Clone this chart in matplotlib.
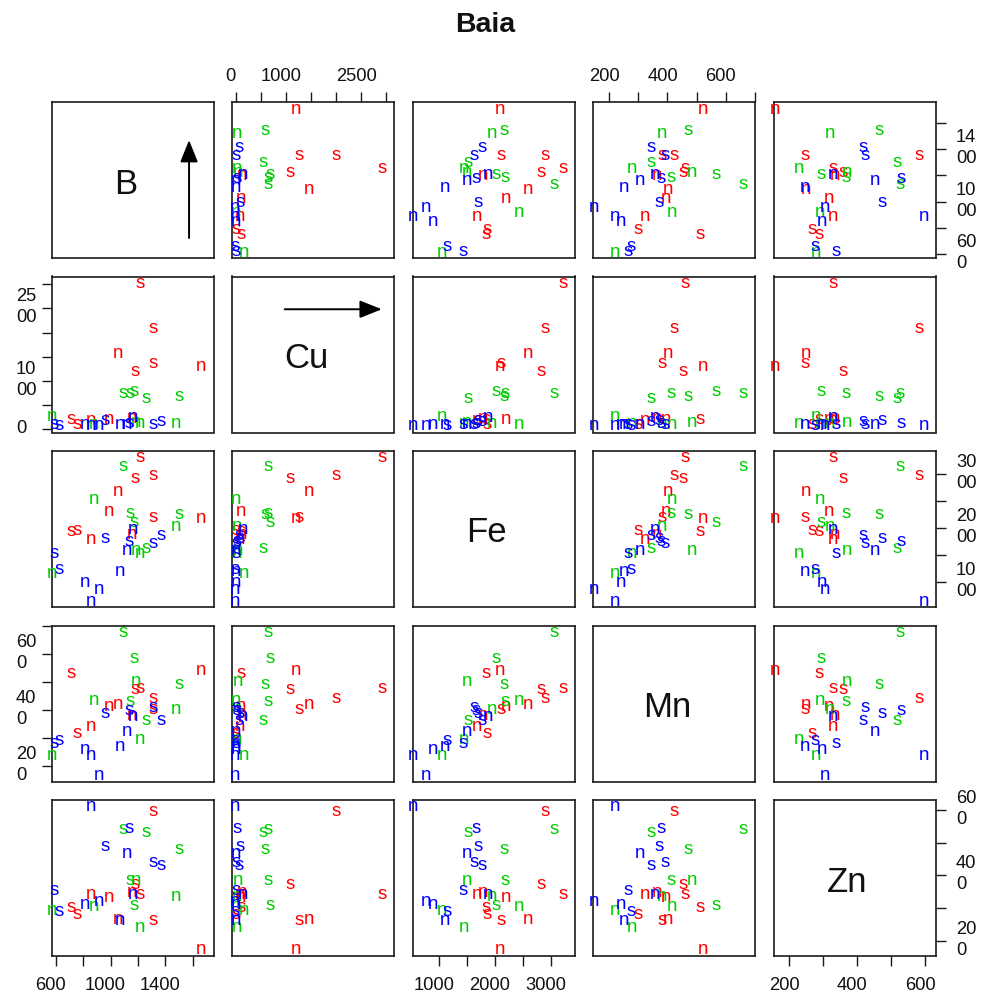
import matplotlib
matplotlib.use("Agg")
import matplotlib.pyplot as plt
import matplotlib.transforms as mtransforms

plt.rcParams['font.family'] = ['Liberation Sans', 'DejaVu Sans']

title = "Baia"
variables = ["B", "Cu", "Fe", "Mn", "Zn"]

# group colour (r / g / b) and site label (n / s) of each sample
group = (["r"] * 11) + (["g"] * 10) + (["b"] * 12)
site = ["n", "s", "s", "n", "s", "s", "n", "n", "n", "s", "s",
        "n", "s", "s", "n", "n", "s", "s", "s", "n", "n",
        "s", "s", "n", "s", "n", "n", "s", "n", "n", "n", "s", "s"]

B = [1697, 1347, 1347, 1195, 1220, 1251, 1094, 1023, 891, 790, 752,
     1517, 1537, 1296, 1251, 1225, 1208, 1182, 1132, 916, 612,
     1410, 1347, 1157, 1175, 1203, 1106, 997, 954, 891, 853, 663, 625]
Cu = [1300, 1365, 2090, 230, 1190, 3025, 1568, 210, 190, 110, 200,
      130, 688, 645, 130, 150, 780, 740, 742, 110, 262,
      170, 100, 110, 120, 250, 100, 180, 80, 90, 110, 80, 100]
Fe = [2186, 2197, 2986, 1887, 2927, 3321, 2688, 2299, 1779, 1958, 1940,
      2036, 2258, 1618, 1530, 1590, 2107, 2276, 3154, 2527, 1151,
      1869, 1720, 1587, 1749, 1976, 1193, 1797, 852, 631, 990, 1229, 1523]
Mn = [540, 400, 441, 380, 472, 477, 420, 411, 340, 317, 529,
      400, 489, 361, 294, 500, 585, 431, 677, 434, 237,
      361, 409, 323, 397, 375, 269, 388, 166, 237, 258, 292, 281]
Zn = [173, 262, 595, 348, 372, 343, 265, 333, 343, 282, 302,
      336, 480, 531, 242, 384, 309, 383, 540, 305, 294,
      431, 439, 466, 542, 343, 262, 489, 319, 610, 311, 291, 353]

data = {"B": B, "Cu": Cu, "Fe": Fe, "Mn": Mn, "Zn": Zn}
group_colors = {"r": "#FF0000", "g": "#00CD00", "b": "#0000FF"}

limits = {"B": (572, 1757), "Cu": (-65, 3160), "Fe": (529, 3434),
          "Mn": (145, 701), "Zn": (154, 630)}
ticks = {"B": [600, 800, 1000, 1200, 1400, 1600],
         "Cu": [0, 500, 1000, 1500, 2000, 2500, 3000],
         "Fe": [1000, 1500, 2000, 2500, 3000],
         "Mn": [200, 300, 400, 500, 600, 700],
         "Zn": [200, 300, 400, 500, 600]}
tick_labels = {"B": [600, 1000, 1400], "Cu": [0, 1000, 2500],
               "Fe": [1000, 2000, 3000], "Mn": [200, 400, 600],
               "Zn": [200, 400, 600]}

W, H = 981, 998
fig = plt.figure(figsize=(W / 100, H / 100), dpi=100)


def off(dx, dy):
    return mtransforms.ScaledTranslation(dx / 100, -dy / 100, fig.dpi_scale_trans)


def wrap(v):
    s = str(v)
    return s if len(s) <= 2 else s[:2] + "\n" + s[2:]


n = len(variables)
pw, ph = 162, 156
axes = {}
for r in range(n):
    for c in range(n):
        left = 52 + c * 180.4
        top = 102 + r * 174.5
        ax = fig.add_axes([left / W, 1 - (top + ph) / H, pw / W, ph / H])
        axes[(r, c)] = ax
        xv, yv = variables[c], variables[r]
        ax.set_xlim(*limits[xv])
        ax.set_ylim(*limits[yv])
        ax.set_xticks([])
        ax.set_yticks([])
        for sp in ax.spines.values():
            sp.set_linewidth(1.2)
            sp.set_color("#1a1a1a")
        if r == c:
            ax.text(0.5, 0.5, yv, transform=ax.transAxes + off(-7, 4),
                    ha="center", va="center", fontsize=25, color="#111111")
            continue
        for x, y, g, s in zip(data[xv], data[yv], group, site):
            ax.text(x, y, s, color=group_colors[g], fontsize=13.5,
                    ha="center", va="center", clip_on=False,
                    transform=ax.transData + off(-5, 0))

# arrows in the first two diagonal panels
axes[(0, 0)].annotate("", xy=(0.846, 0.756), xytext=(0.846, 0.128),
                      xycoords="axes fraction",
                      arrowprops=dict(arrowstyle="-|>,head_length=0.75,head_width=0.3",
                                      color="black", lw=1.4, mutation_scale=18,
                                      shrinkA=0, shrinkB=0))
axes[(1, 1)].annotate("", xy=(0.922, 0.79), xytext=(0.323, 0.79),
                      xycoords="axes fraction",
                      arrowprops=dict(arrowstyle="-|>,head_length=0.75,head_width=0.3",
                                      color="black", lw=1.4, mutation_scale=18,
                                      shrinkA=0, shrinkB=0))

tick_kw = dict(direction="out", length=7.4, width=1.0, color="#1a1a1a")

# top axes
for c in (1, 3):
    ax = axes[(0, c)]
    v = variables[c]
    ax.xaxis.set_ticks_position("top")
    ax.set_xticks(ticks[v])
    ax.tick_params(axis="x", labeltop=False, labelbottom=False, **tick_kw)
    tr = mtransforms.blended_transform_factory(ax.transData, ax.transAxes)
    for t in tick_labels[v]:
        ax.text(t, 1, str(t), transform=tr + off(-5, -25.5), ha="center",
                va="center", fontsize=13.2, color="#111111")

# bottom axes
for c in (0, 2, 4):
    ax = axes[(n - 1, c)]
    v = variables[c]
    ax.xaxis.set_ticks_position("bottom")
    ax.set_xticks(ticks[v])
    ax.tick_params(axis="x", labelbottom=False, **tick_kw)
    tr = mtransforms.blended_transform_factory(ax.transData, ax.transAxes)
    for t in tick_labels[v]:
        ax.text(t, 0, str(t), transform=tr + off(-5, 29), ha="center",
                va="center", fontsize=13.2, color="#111111")

# left axes
for r in (1, 3):
    ax = axes[(r, 0)]
    v = variables[r]
    ax.yaxis.set_ticks_position("left")
    ax.set_yticks(ticks[v])
    ax.tick_params(axis="y", labelleft=False, **tick_kw)
    tr = mtransforms.blended_transform_factory(fig.transFigure, ax.transData)
    for t in tick_labels[v]:
        ax.text(16 / W, t, wrap(t), transform=tr + off(0, -1), ha="left",
                va="center", fontsize=13.2, linespacing=1.3, color="#111111")

# right axes
for r in (0, 2, 4):
    ax = axes[(r, n - 1)]
    v = variables[r]
    ax.yaxis.set_ticks_position("right")
    ax.set_yticks(ticks[v])
    ax.tick_params(axis="y", labelright=False, labelleft=False, **tick_kw)
    tr = mtransforms.blended_transform_factory(fig.transFigure, ax.transData)
    for t in tick_labels[v]:
        ax.text(956 / W, t, wrap(t), transform=tr + off(0, -1), ha="left",
                va="center", fontsize=13.2, linespacing=1.3, color="#111111")

fig.text(485 / W, 1 - 25 / H, title, ha="center", va="center",
         fontsize=20.5, fontweight="bold", color="#111111")

fig.savefig("out.png", dpi=100)
